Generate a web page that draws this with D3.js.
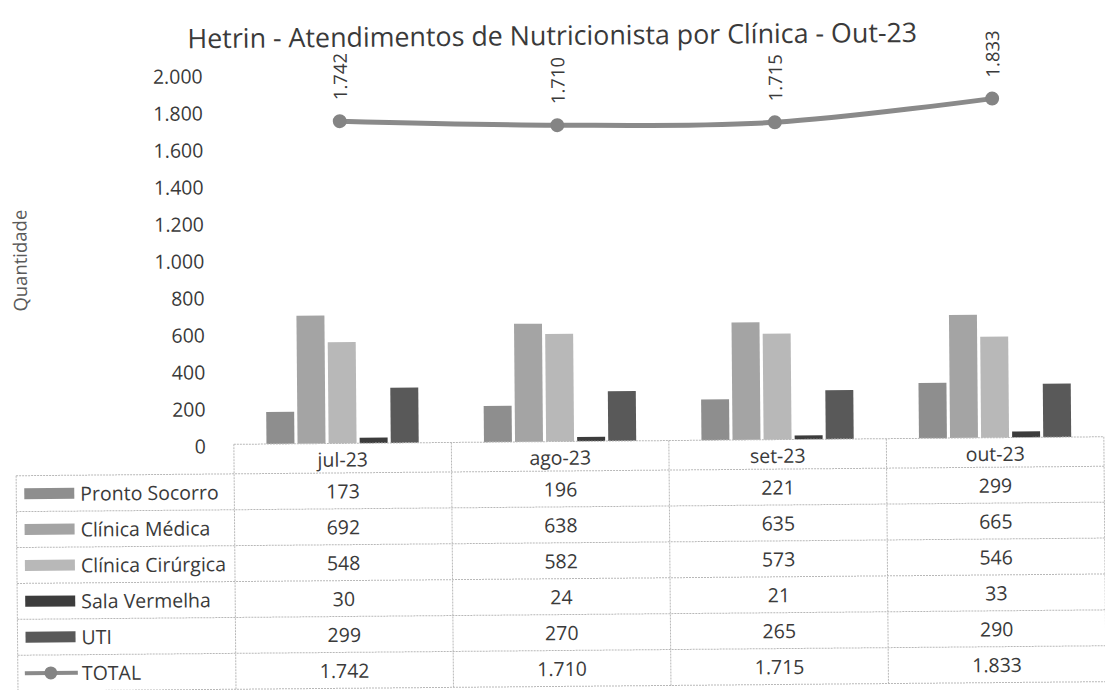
<!DOCTYPE html>
<html>
<head>
<meta charset="utf-8">
<script src="https://cdn.jsdelivr.net/npm/d3@7/dist/d3.min.js"></script>
<style>
  html, body { margin: 0; padding: 0; background: #ffffff; }
  svg { display: block; font-family: "Open Sans", Lato, sans-serif; }
</style>
</head>
<body>
<svg id="chart" width="1105" height="690"></svg>
<script>
const months = ["jul-23", "ago-23", "set-23", "out-23"];
const seriesNames = ["Pronto Socorro", "Clínica Médica", "Clínica Cirúrgica", "Sala Vermelha", "UTI"];
const prontoSocorro = [173, 196, 221, 299];
const clinicaMedica = [692, 638, 635, 665];
const clinicaCirurgica = [548, 582, 573, 546];
const salaVermelha = [30, 24, 21, 33];
const uti = [299, 270, 265, 290];
const total = [1742, 1710, 1715, 1833];
const yTicks = [0, 200, 400, 600, 800, 1000, 1200, 1400, 1600, 1800, 2000];
const titleText = "Hetrin - Atendimentos de Nutricionista por Clínica - Out-23";
const yTitle = "Quantidade";
const totalName = "TOTAL";

const seriesValues = [prontoSocorro, clinicaMedica, clinicaCirurgica, salaVermelha, uti];
const seriesColors = ["#8e8e8e", "#a4a4a4", "#b8b8b8", "#3c3c3c", "#595959"];
const lineColor = "#8a8a8a";
const textColor = "#3a3a3a";
const gridColor = "#b8b8b8";
const FONT = "'Open Sans', Lato, sans-serif";

const fmt = v => d3.format(",")(v).replace(/,/g, ".");

const svg = d3.select("#chart");
const g = svg.append("g").attr("transform", "rotate(-0.5, 560, 345)");

const x = d3.scaleBand().domain(months).range([233, 1103]).paddingInner(0).paddingOuter(0);
const y = d3.scaleLinear().domain([0, 2000]).range([441.5, 71.5]);
const groupW = x.bandwidth() * 0.70;
const xs = d3.scaleBand().domain(seriesNames).range([-groupW / 2, groupW / 2]).paddingInner(0.1).paddingOuter(0);

// Title
g.append("text")
  .attr("x", 555).attr("y", 45)
  .attr("text-anchor", "middle")
  .attr("font-size", 26.8)
  .attr("fill", textColor)
  .text(titleText);

// Y axis title
g.append("text")
  .attr("transform", "translate(20,256) rotate(-90)")
  .attr("text-anchor", "middle")
  .attr("dominant-baseline", "central")
  .attr("font-size", 18.5)
  .attr("fill", "#5a5a5a")
  .text(yTitle);

// Y axis (labels only)
const yAxis = d3.axisLeft(y).tickValues(yTicks).tickFormat(fmt).tickSize(0).tickPadding(0);
const yAxisG = g.append("g").attr("transform", "translate(205,2)").call(yAxis);
yAxisG.select(".domain").remove();
yAxisG.selectAll("text").attr("font-size", 19.5).attr("fill", textColor).attr("font-family", FONT);

// Bars
const barsData = [];
months.forEach((m, i) => {
  seriesNames.forEach((s, j) => {
    barsData.push({ month: m, series: s, value: seriesValues[j][i], color: seriesColors[j] });
  });
});
g.append("g").selectAll("rect").data(barsData).join("rect")
  .attr("x", d => x(d.month) + x.bandwidth() / 2 + xs(d.series))
  .attr("width", xs.bandwidth())
  .attr("y", d => y(d.value))
  .attr("height", d => y(0) - y(d.value))
  .attr("fill", d => d.color);

// Total line
const pts = months.map((m, i) => ({ month: m, value: total[i] }));
const line = d3.line()
  .x(d => x(d.month) + x.bandwidth() / 2)
  .y(d => y(d.value))
  .curve(d3.curveCatmullRom.alpha(0.5));
g.append("path").datum(pts)
  .attr("d", line)
  .attr("fill", "none")
  .attr("stroke", lineColor)
  .attr("stroke-width", 5);
g.append("g").selectAll("circle").data(pts).join("circle")
  .attr("cx", d => x(d.month) + x.bandwidth() / 2)
  .attr("cy", d => y(d.value))
  .attr("r", 7)
  .attr("fill", "#848484");
g.append("g").selectAll("text").data(pts).join("text")
  .attr("transform", d => `translate(${x(d.month) + x.bandwidth() / 2},${y(d.value) - 21}) rotate(-90)`)
  .attr("text-anchor", "start")
  .attr("dominant-baseline", "central")
  .attr("font-size", 18.5)
  .attr("fill", textColor)
  .text(d => fmt(d.value));

// Data table
const headerTop = y(0);
const headerBottom = 471;
const rowH = 35.9;
const rowNames = seriesNames.concat([totalName]);
const rowValues = seriesValues.concat([total]);
const tableLeft = 15;
const tableRight = x.range()[1];
const catLeft = x.range()[0];
const lastBottom = headerBottom + rowH * rowNames.length;

const tg = g.append("g");
const hLines = [{ y: headerTop, x1: catLeft }].concat(
  d3.range(rowNames.length + 1).map(i => ({ y: headerBottom + i * rowH, x1: tableLeft }))
);
tg.selectAll("line.h").data(hLines).join("line")
  .attr("class", "h")
  .attr("x1", d => d.x1).attr("x2", tableRight)
  .attr("y1", d => d.y).attr("y2", d => d.y)
  .attr("stroke", gridColor).attr("stroke-width", 1).attr("stroke-dasharray", "2,1");
const vLines = [{ x: tableLeft, y1: headerBottom }].concat(
  months.map(m => ({ x: x(m), y1: headerTop })),
  [{ x: tableRight, y1: headerTop }]
);
tg.selectAll("line.v").data(vLines).join("line")
  .attr("class", "v")
  .attr("x1", d => d.x).attr("x2", d => d.x)
  .attr("y1", d => d.y1).attr("y2", lastBottom)
  .attr("stroke", gridColor).attr("stroke-width", 1).attr("stroke-dasharray", "2,1");

// Header labels
tg.selectAll("text.hdr").data(months).join("text")
  .attr("class", "hdr")
  .attr("x", d => x(d) + x.bandwidth() / 2)
  .attr("y", (headerTop + headerBottom) / 2 + 1)
  .attr("text-anchor", "middle")
  .attr("dominant-baseline", "central")
  .attr("font-size", 19.5)
  .attr("fill", textColor)
  .text(d => d);

// Rows
rowNames.forEach((name, r) => {
  const cy = headerBottom + r * rowH + rowH / 2;
  if (r < seriesNames.length) {
    tg.append("rect")
      .attr("x", 23).attr("y", cy - 5.5)
      .attr("width", 50).attr("height", 11)
      .attr("fill", seriesColors[r]);
  } else {
    tg.append("line")
      .attr("x1", 22).attr("x2", 75).attr("y1", cy).attr("y2", cy)
      .attr("stroke", lineColor).attr("stroke-width", 4);
    tg.append("circle").attr("cx", 48).attr("cy", cy).attr("r", 6.5).attr("fill", "#848484");
  }
  tg.append("text")
    .attr("x", 79).attr("y", cy)
    .attr("dominant-baseline", "central")
    .attr("font-size", 19.5)
    .attr("fill", textColor)
    .text(name);
  tg.selectAll(null).data(months).join("text")
    .attr("x", d => x(d) + x.bandwidth() / 2)
    .attr("y", cy)
    .attr("text-anchor", "middle")
    .attr("dominant-baseline", "central")
    .attr("font-size", 19.5)
    .attr("fill", textColor)
    .text((d, i) => fmt(rowValues[r][i]));
});
</script>
</body>
</html>
